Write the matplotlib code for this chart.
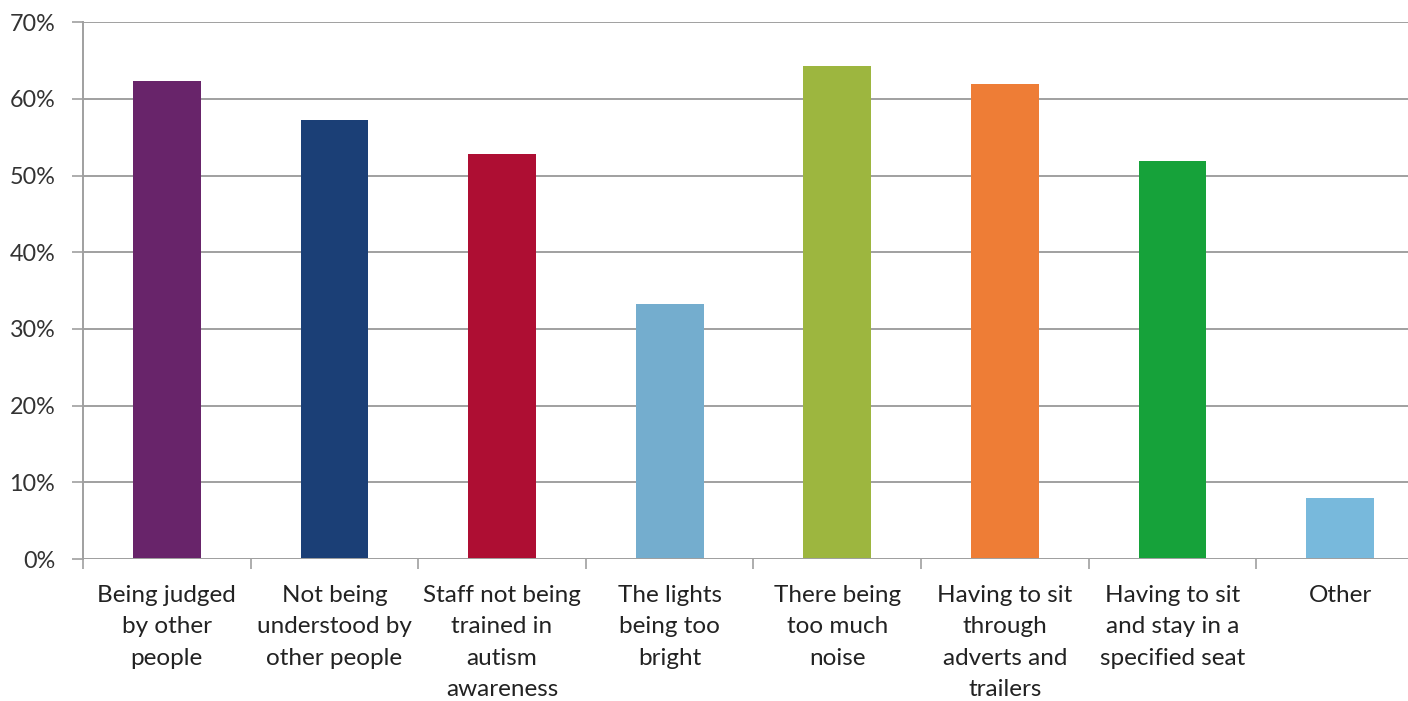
import matplotlib
matplotlib.use("Agg")
import matplotlib.pyplot as plt
import matplotlib.ticker as ticker
import numpy as np

categories = [
    "Being judged\nby other\npeople",
    "Not being\nunderstood by\nother people",
    "Staff not being\ntrained in\nautism\nawareness",
    "The lights\nbeing too\nbright",
    "There being\ntoo much\nnoise",
    "Having to sit\nthrough\nadverts and\ntrailers",
    "Having to sit\nand stay in a\nspecified seat",
    "Other",
]
values = [62.3, 57.3, 52.8, 33.2, 64.3, 62.0, 51.9, 8.0]
colors = ["#68246A", "#1B3F76", "#AE0E33", "#74ADCE",
          "#9DB63F", "#EE7D36", "#16A23A", "#78B9DC"]
y_ticks = [0, 10, 20, 30, 40, 50, 60, 70]

plt.rcParams["font.family"] = ["Lato", "DejaVu Sans"]

W, H = 1408, 701
fig = plt.figure(figsize=(W / 100, H / 100), dpi=100)
ax = fig.add_axes([83 / W, 1 - 559 / H, 1341 / W, (559 - 22.3) / H])

xs = np.arange(len(values))
ax.bar(xs, values, width=0.404, color=colors, zorder=3)

ax.set_xlim(-0.5, len(values) - 0.5)
ax.set_ylim(0, 70)
ax.set_yticks(y_ticks)
ax.yaxis.set_major_formatter(ticker.FormatStrFormatter("%d%%"))
ax.grid(axis="y", color="#A0A0A0", linewidth=1.4, zorder=0)

for side in ["top", "right", "bottom"]:
    ax.spines[side].set_visible(False)
ax.spines["left"].set_color("#A0A0A0")
ax.spines["left"].set_linewidth(1.4)
ax.axhline(0, color="#A0A0A0", linewidth=1.4, zorder=4)

ax.set_xticks(xs)
ax.set_xticklabels(categories, fontsize=17.5, color="#222222", linespacing=1.62, va="top")
ax.set_xticks(np.arange(len(values) + 1) - 0.5, minor=True)
ax.tick_params(axis="x", which="major", length=0, pad=18.5)
ax.tick_params(axis="x", which="minor", length=7, width=1.2, color="#A0A0A0")
ax.tick_params(axis="y", length=8, width=1.2, color="#A0A0A0", pad=12,
               labelsize=16.8, labelcolor="#333333")

fig.savefig("out.png", dpi=100, facecolor="white")
